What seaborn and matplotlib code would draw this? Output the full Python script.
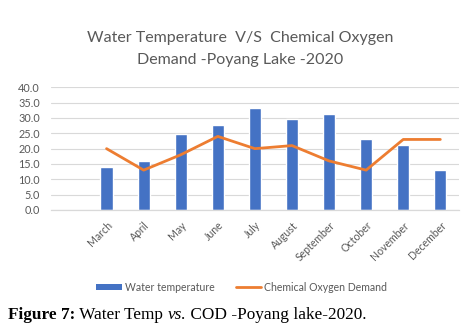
import numpy as np
import pandas as pd
import matplotlib
matplotlib.use("Agg")
import matplotlib.pyplot as plt
import seaborn as sns
from matplotlib.lines import Line2D
from matplotlib.patches import Patch

months = ["", "March", "April", "May", "June", "July", "August",
          "September", "October", "November", "December"]
water_temp = [np.nan, 14.0, 16.0, 24.8, 27.7, 33.2, 29.6, 31.3, 23.1, 21.2, 13.0]
cod = [np.nan, 20.0, 13.0, 18.0, 24.0, 20.0, 21.0, 16.0, 13.0, 23.0, 23.0]
y_ticks = [0, 5, 10, 15, 20, 25, 30, 35, 40]

BLUE = "#4472C4"
ORANGE = "#ED7D31"
GREY = "#595959"

df = pd.DataFrame({"month": months, "temp": water_temp, "cod": cod})
df["pos"] = np.arange(len(months))

sns.set_theme(style="white")
plt.rcParams["font.family"] = ["Lato", "DejaVu Sans"]

fig = plt.figure(figsize=(4.76, 3.32), dpi=100)
ax = fig.add_axes([0.107, 0.3675, 0.857, 0.3695])

sns.barplot(data=df, x="month", y="temp", order=months, color=BLUE,
            width=0.33, saturation=1, ax=ax)
sns.lineplot(data=df.dropna(), x="pos", y="cod", color=ORANGE, linewidth=2.0,
             ax=ax, sort=False)

ax.set_xlim(-0.5, len(months) - 0.5)
ax.set_ylim(0, 40)
ax.set_yticks(y_ticks)
ax.set_yticklabels([f"{v:.1f}" for v in y_ticks], fontsize=7.8, color=GREY)
ax.set_xticks(df["pos"])
ax.set_xticklabels(months, rotation=45, ha="right", rotation_mode="anchor",
                   fontsize=7.6, color=GREY)
ax.tick_params(axis="y", length=0, pad=8)
ax.tick_params(axis="x", length=0, pad=7)
ax.set_xlabel("")
ax.set_ylabel("")
ax.yaxis.grid(True, color="#D9D9D9", linewidth=0.8)
ax.set_axisbelow(True)
for s in ["top", "right", "left"]:
    ax.spines[s].set_visible(False)
ax.spines["bottom"].set_color("#D9D9D9")
ax.spines["bottom"].set_linewidth(0.9)

fig.text(0.505, 0.887, "Water Temperature  V/S  Chemical Oxygen",
         ha="center", va="center", fontsize=11.5, color=GREY)
fig.text(0.505, 0.82, "Demand -Poyang Lake -2020",
         ha="center", va="center", fontsize=11.5, color=GREY)

handles = [Patch(facecolor=BLUE, edgecolor="none"),
           Line2D([0], [0], color=ORANGE, linewidth=2)]
fig.legend(handles, ["Water temperature", "Chemical Oxygen Demand"],
           loc="center", bbox_to_anchor=(0.508, 0.135), ncol=2, frameon=False,
           fontsize=7.6, labelcolor=GREY, handlelength=2.4, handleheight=0.6,
           handletextpad=0.3, columnspacing=2.0)

# caption with mixed styles
serif = ["Liberation Serif", "DejaVu Serif"]
parts = [("Figure 7:", "bold", "normal"), (" Water Temp ", "normal", "normal"),
         ("vs.", "normal", "italic"), (" COD -Poyang lake-2020.", "normal", "normal")]
fig.canvas.draw()
renderer = fig.canvas.get_renderer()
x = 8 / 476
for txt, weight, style in parts:
    t = fig.text(x, 0.051, txt, family=serif, fontweight=weight, fontstyle=style,
                 fontsize=12.4, color="black", va="center", ha="left")
    bb = t.get_window_extent(renderer=renderer)
    x += bb.width / fig.bbox.width

fig.savefig("out.png", dpi=100)
